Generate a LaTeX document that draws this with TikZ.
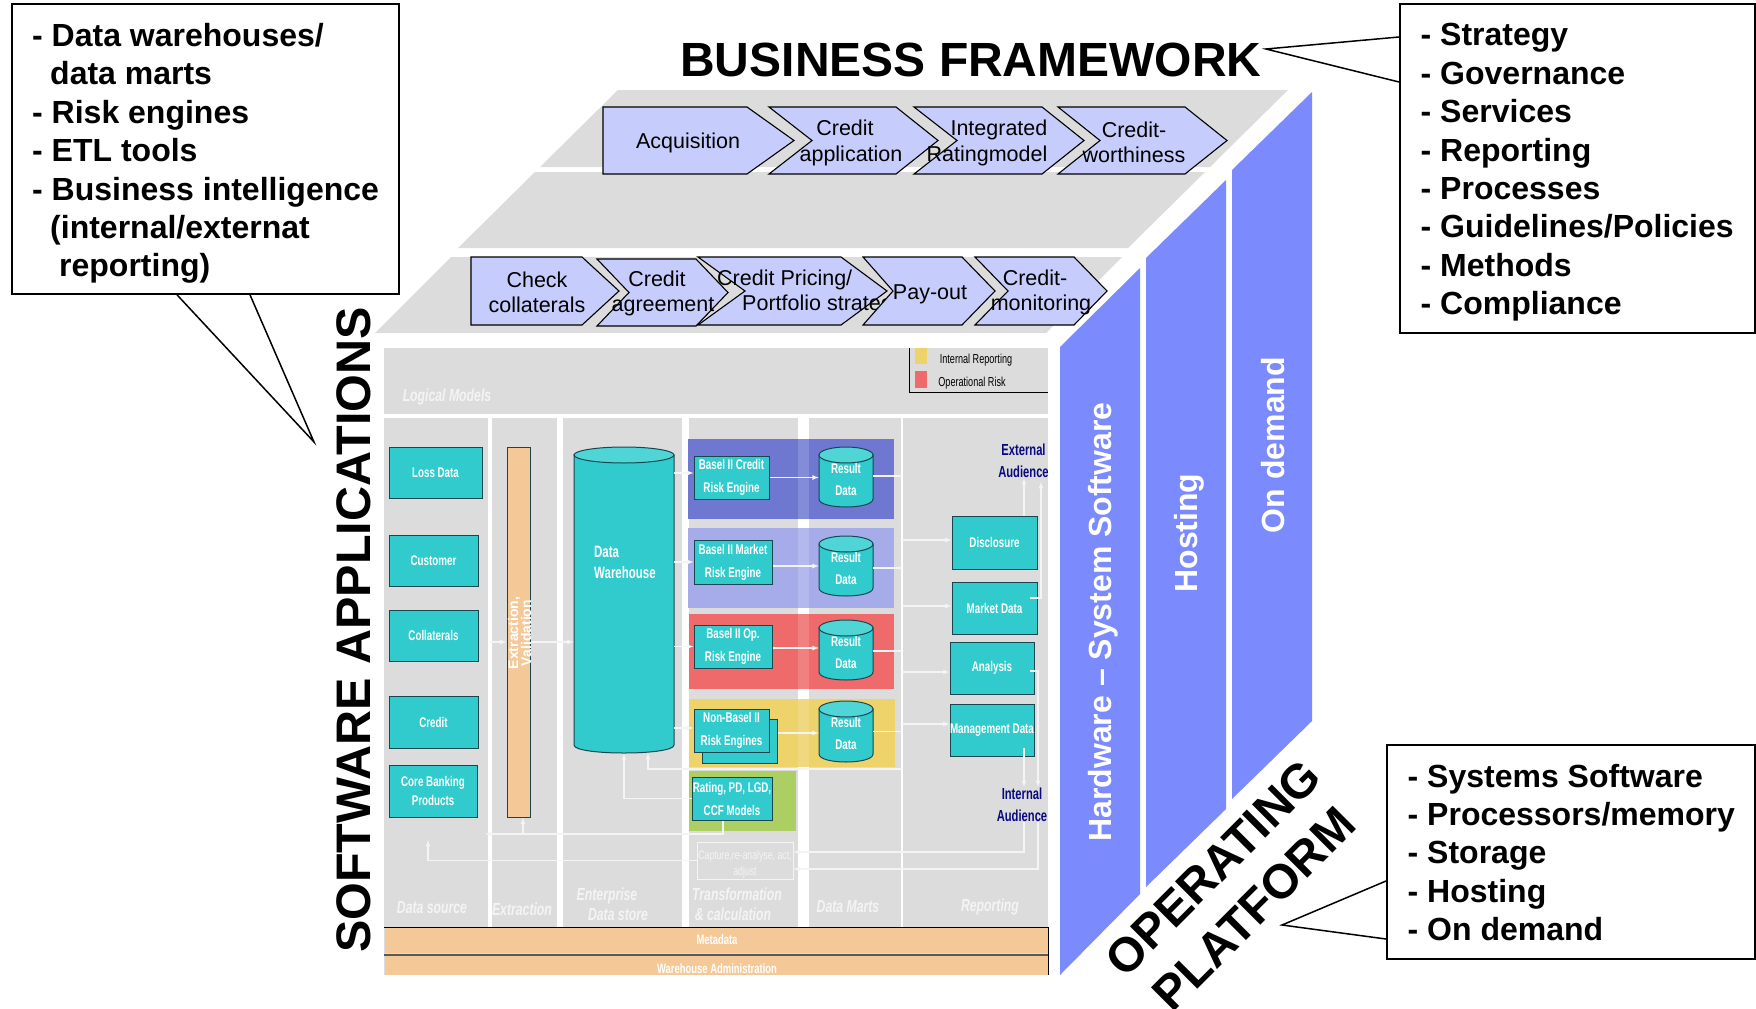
\documentclass[tikz,border=0pt]{standalone}
\usepackage{fontspec}
\setmainfont{Liberation Sans}
\newfontfamily\narrowfont[FakeStretch=0.7]{Liberation Sans}

\definecolor{plategray}{HTML}{DCDCDC}
\definecolor{panelblue}{HTML}{7B8AFC}
\definecolor{chevblue}{HTML}{C6CCFC}
\definecolor{tealbox}{HTML}{31CBCD}
\definecolor{tealtop}{HTML}{4FD5D5}
\definecolor{tealline}{HTML}{17464F}
\definecolor{peach}{HTML}{F5C997}
\definecolor{bandblue}{HTML}{6E78D0}
\definecolor{bandlav}{HTML}{A6ACEA}
\definecolor{bandred}{HTML}{EF6A6A}
\definecolor{bandyellow}{HTML}{EED26A}
\definecolor{bandgreen}{HTML}{ABCF62}
\definecolor{audnavy}{HTML}{0A0A80}
\definecolor{ghost}{HTML}{F4F4F4}

\tikzset{
  >=latex,
  chevron/.style={fill=chevblue,draw=black,line width=1.1pt,line join=miter},
  chevtext/.style={font=\fontsize{21.5}{25.2}\selectfont,align=center,inner sep=0pt},
  bigtitle/.style={font=\fontsize{48}{56}\selectfont\bfseries,inner sep=0pt,align=center},
  paneltext/.style={font=\fontsize{32}{38}\selectfont\bfseries,text=white,rotate=90,inner sep=0pt},
  callbox/.style={draw=black,line width=1.8pt,fill=white,anchor=north west,inner sep=0pt},
  calltext/.style={anchor=west,align=left,inner sep=0pt,font=\fontsize{32}{38.4}\selectfont\bfseries},
  calltail/.style={draw=black,line width=1.5pt},
  tealnode/.style={fill=tealbox,draw=tealline,line width=1pt,text=white,align=center,inner sep=0pt,
    font=\fontsize{14}{23}\selectfont\narrowfont\bfseries},
  srcbox/.style 2 args={tealnode,minimum width=#1pt,minimum height=#2pt},
  drumbody/.style={fill=tealbox,draw=tealline,line width=1pt},
  drumtop/.style={fill=tealtop,draw=tealline,line width=1pt},
  drumtext/.style={text=white,align=center,inner sep=0pt,font=\fontsize{14}{22}\selectfont\narrowfont\bfseries},
  layertext/.style={font=\fontsize{17.5}{21}\selectfont\narrowfont\bfseries\itshape,text=ghost,inner sep=0pt,align=center},
  bartext/.style={font=\fontsize{13.5}{16}\selectfont\narrowfont\bfseries,text=white,inner sep=0pt},
  audtext/.style={font=\fontsize{16}{22}\selectfont\narrowfont\bfseries,text=audnavy,align=center,inner sep=0pt},
  legendtext/.style={font=\fontsize{13}{16}\selectfont\narrowfont,inner sep=0pt},
  flow/.style={->,draw=ghost,line width=1.2pt},
  flowline/.style={draw=ghost,line width=1.2pt}
}

% name, centre x, x radius, top y, foot y, text
\newcommand{\drum}[6]{%
  \draw[drumbody] (#2-#3,#4) -- (#2-#3,#5) .. controls (#2-#3,#5+10.67) and (#2+#3,#5+10.67) .. (#2+#3,#5) -- (#2+#3,#4) -- cycle;
  \draw[drumtop] (#2,#4) ellipse [x radius=#3,y radius=8];
  \node[drumtext,minimum width={2*#3},minimum height={#5-#4+12}] (#1) at (#2,{(#4+#5)/2+2}) {#6};
}

\begin{document}
\begin{tikzpicture}[x=1pt,y=-1pt]
  \useasboundingbox (0,0) rectangle (1756,1009);

  % top plates
  \fill[plategray] (618,90) -- (1288,90) -- (1210,167) -- (540,167) -- cycle;
  \fill[plategray] (535,172) -- (1205,172) -- (1128,248) -- (458,248) -- cycle;
  \fill[plategray] (451,257) -- (1122,257) -- (1046,333) -- (375,333) -- cycle;

  % side panels
  \fill[panelblue] (1232,170) -- (1312,92) -- (1312,721) -- (1232,799) -- cycle;
  \fill[panelblue] (1146,258) -- (1226,180) -- (1226,809) -- (1146,887) -- cycle;
  \fill[panelblue] (1060,347) -- (1140,268) -- (1140,894) -- (1060,975) -- cycle;
  \node[paneltext] (hardware) at (1103,622) {Hardware – System Software};
  \node[paneltext] (hosting) at (1189,533) {Hosting};
  \node[paneltext] (ondemand) at (1273,445) {On demand};

  % upper process row
  \draw[chevron] (603,107) -- (747,107) -- (794,140.5) -- (747,174) -- (603,174) -- cycle;
  \node[chevtext] (acquisition) at (688,143) {Acquisition};
  \draw[chevron] (769,107) -- (896,107) -- (938,140.5) -- (896,174) -- (769,174) -- (812,140.5) -- cycle;
  \node[chevtext] (application) at (851,143) {Credit\hspace*{12pt}\\application};
  \draw[chevron] (914,107) -- (1042,107) -- (1084,140.5) -- (1042,174) -- (914,174) -- (957,140.5) -- cycle;
  \node[chevtext,align=right] (rating) at (987,143) {Integrated\\Ratingmodel};
  \draw[chevron] (1058,107) -- (1185,107) -- (1227,140.5) -- (1185,174) -- (1058,174) -- (1100,140.5) -- cycle;
  \node[chevtext] (worthiness) at (1134,142) {Credit-\\worthiness};

  % lower process row
  \draw[chevron] (471,257) -- (582,257) -- (619,291) -- (582,325) -- (471,325) -- cycle;
  \node[chevtext] (collaterals) at (537,292) {Check\\collaterals};
  \draw[chevron] (597,259) -- (696,259) -- (728,292.5) -- (696,326) -- (597,326) -- (629,292.5) -- cycle;
  \node[chevtext] (agreement) at (663,293.5) {Credit\hspace*{12pt}\\agreement};
  \draw[chevron] (698,257) -- (841,257) -- (887,291) -- (841,325) -- (698,325) -- (745,291) -- cycle;
  \node[chevtext,anchor=west,align=left] (pricing) at (717,292.5) {Credit Pricing/\\\hspace*{25pt}Portfolio strategy};
  \draw[chevron] (863,257) -- (962,257) -- (995,291) -- (962,325) -- (863,325) -- (893,291) -- cycle;
  \node[chevtext] (payout) at (930,294) {Pay-out};
  \draw[chevron] (975,257) -- (1074,257) -- (1107,291) -- (1074,325) -- (975,325) -- (1008,291) -- cycle;
  \node[chevtext] (monitoring) at (1041,292.5) {\hspace*{-12pt}Credit-\\monitoring};

  % front face
  \fill[plategray] (384,348) rectangle (1048,975);
  \fill[white] (384,414) rectangle (1048,418);
  \fill[white] (488,416) rectangle (492,927);
  \fill[white] (557,416) rectangle (563,927);
  \fill[white] (682,416) rectangle (689,927);
  \fill[white] (798,416) rectangle (809,927);
  \fill[white] (901,416) rectangle (903,927);

  % legend
  \draw[black,line width=0.9pt] (909,348) -- (909,392) -- (1048,392);
  \fill[bandyellow] (915,348) rectangle (927,364);
  \fill[bandred] (915,371) rectangle (927,388);
  \node[legendtext] (internalrep) at (976,360) {Internal Reporting};
  \node[legendtext] (oprisk) at (972,383) {Operational Risk};

  % risk bands
  \fill[bandblue] (688,439) rectangle (894,519);
  \fill[bandlav] (688,528) rectangle (894,608);
  \fill[bandred] (689,614) rectangle (894,689);
  \fill[bandyellow] (689,699) rectangle (895,767);
  \fill[bandgreen] (689,771) rectangle (796,831);
  \fill[white,opacity=.15] (798,416) rectangle (809,767);

  % layer names
  \node[layertext] (logical) at (447,397) {Logical Models};
  \node[layertext] (datasource) at (432,908) {Data source};
  \node[layertext] (extraction) at (522,909) {Extraction};
  \node[layertext] (enterprise) at (607,896) {Enterprise};
  \node[layertext] (datastore) at (618,915) {Data store};
  \node[layertext] (transform) at (737,894) {Transformation};
  \node[layertext] (calc) at (733,914) {\& calculation};
  \node[layertext] (datamarts) at (848,907) {Data Marts};
  \node[layertext] (reporting) at (990,907) {Reporting};

  % metadata bars
  \fill[peach] (385,927) rectangle (1048,953);
  \fill[peach] (385,956) rectangle (1048,975);
  \draw[black,line width=0.8pt] (384,927) -- (1048,927) -- (1048,975);
  \draw[black!65,line width=2pt] (384,954.5) -- (1048,954.5);
  \node[bartext] (metadata) at (717,940) {Metadata};
  \node[bartext] (whadmin) at (717,969) {Warehouse Administration};

  % sources
  \node[srcbox={93}{51}] (loss) at (435.5,472.5) {Loss Data};
  \node[srcbox={89}{51}] (customer) at (433.5,560.5) {Customer};
  \node[srcbox={89}{51}] (collat) at (433.5,635.5) {Collaterals};
  \node[srcbox={89}{52}] (credit) at (433.5,722) {Credit};
  \node[srcbox={88}{52},font=\fontsize{14}{19}\selectfont\narrowfont\bfseries] (core) at (433,791) {Core Banking\\Products};

  % extraction bar
  \node[fill=peach,draw=tealline,line width=1pt,minimum width=23pt,minimum height=370pt,inner sep=0pt] (extbar) at (518.5,632) {};
  \node[rotate=90,text=white,align=center,inner sep=0pt,font=\fontsize{14}{13}\selectfont\bfseries] (extlabel) at (519.5,633) {Extraction,\\Validation};

  % warehouse
  \drum{wh}{624}{50}{455}{745}{}
  \node[anchor=west,text=white,align=left,inner sep=0pt,font=\fontsize{16.4}{21}\selectfont\narrowfont\bfseries] (whlabel) at (594,562) {Data\\Warehouse};

  % engines
  \node[srcbox={75}{43}] (bcredit) at (731.5,477.5) {Basel II Credit\\Risk Engine};
  \node[srcbox={78}{44}] (bmarket) at (733,562) {Basel II Market\\Risk Engine};
  \node[srcbox={78}{43}] (bop) at (733,646.5) {Basel II Op.\\Risk Engine};
  \node[srcbox={75}{44}] (nonbback) at (739.5,741) {};
  \node[srcbox={75}{43}] (nonb) at (731.5,730.5) {Non-Basel II\\Risk Engines};
  \node[srcbox={80}{43}] (ratingpd) at (732,798.5) {Rating, PD, LGD,\\CCF Models};

  % result stores
  \drum{res1}{846}{27}{455}{499}{Result\\Data}
  \drum{res2}{846}{27}{544}{588}{Result\\Data}
  \drum{res3}{846}{27}{628}{672}{Result\\Data}
  \drum{res4}{846}{27}{709}{754}{Result\\Data}

  % reports
  \node[srcbox={85}{53}] (disclosure) at (994.5,542.5) {Disclosure};
  \node[srcbox={85}{52}] (marketdata) at (994.5,608) {Market Data};
  \node[srcbox={84}{52}] (analysis) at (992,668) {Analysis};
  \node[srcbox={84}{52}] (mgmt) at (992,730) {Management Data};
  \node[audtext] (extaud) at (1023.5,461) {External\\Audience};
  \node[audtext] (intaud) at (1022,805) {Internal\\Audience};

  % capture box
  \node[draw=ghost,line width=0.8pt,minimum width=96pt,minimum height=37pt,inner sep=0pt] (capture) at (745,860.5) {};
  \node[text=ghost,align=center,inner sep=0pt,font=\fontsize{12.5}{16}\selectfont\narrowfont] (capturetext) at (745,864.5) {Capture,re-analyse, act,\\adjust};

  % helper points
  \coordinate (repline) at (902,416);
  \coordinate (extin) at (1041,482);
  \coordinate (intin) at (1038,787);
  \coordinate (mgmtout) at (1024,748);
  \coordinate (srcin) at (428,840);
  \coordinate (metaret) at (902,769);
  \coordinate (whin) at (648,753);
  \coordinate (srcbar) at (485,834);
  \coordinate (extup) at (523,834);
  \coordinate (srcbus) at (490,642);

  % warehouse to engines
  \draw[flow] ([yshift=4.5pt]bcredit.west -| wh.east) -- ([yshift=4.5pt]bcredit.west);
  \draw[flow] (bmarket.west -| wh.east) -- (bmarket.west);
  \draw[flow] (bop.west -| wh.east) -- (bop.west);
  \draw[flow] ([yshift=2.5pt]nonb.west -| wh.east) -- ([yshift=2.5pt]nonb.west);

  % engines to stores
  \draw[flow] (bcredit.east) -- (bcredit.east -| res1.west);
  \draw[flow] ([yshift=-4pt]bmarket.east) -- ([yshift=-4pt]bmarket.east -| res2.west);
  \draw[flow] ([yshift=-1.5pt]bop.east) -- ([yshift=-1.5pt]bop.east -| res3.west);
  \draw[flow] ([yshift=8pt]nonbback.east) -- ([yshift=8pt]nonbback.east -| res4.west);

  % stores to reports
  \draw[flowline] ([yshift=3pt]res1.east) -- ([yshift=3pt]res1.east -| repline);
  \draw[flowline] (res2.east) -- (res2.east -| repline);
  \draw[flowline] ([yshift=1pt]res3.east) -- ([yshift=1pt]res3.east -| repline);
  \draw[flowline] ([yshift=2pt]res4.east) -- ([yshift=2pt]res4.east -| repline);
  \draw[flow] ([yshift=2.5pt]disclosure.west -| repline) -- ([yshift=2.5pt]disclosure.west);
  \draw[flow] ([yshift=2pt]marketdata.west -| repline) -- ([yshift=2pt]marketdata.west);
  \draw[flow] ([yshift=-4pt]analysis.west -| repline) -- ([yshift=-4pt]analysis.west);
  \draw[flow] ([yshift=6pt]mgmt.west -| repline) -- ([yshift=6pt]mgmt.west);

  % reports to audiences
  \draw[flow] ([xshift=.5pt]extaud.south |- disclosure.north) -- ([xshift=.5pt]extaud.south);
  \draw[flow] ([shift={(-8pt,10pt)}]marketdata.east) -| (extin);
  \draw[flow] ([shift={(-5pt,-3pt)}]analysis.east) -| (intin);
  \draw[flow] (mgmtout) -- (mgmtout |- intin);

  % feedback
  \draw[flow] (mgmtout |- intaud.south) |- ([yshift=8.5pt]capture.east);
  \draw[flow] (intin |- intaud.south) |- ([yshift=-8.5pt]capture.east);
  \draw[flow] (capture.west) -| (srcin);
  \draw[flow] (ratingpd.west) -| (wh.south);
  \draw[flow] (metaret) -| (whin);
  \draw[flow] ([xshift=-9pt]ratingpd.south) |- (srcbar);
  \draw[flow] (extup) -- (extup |- extbar.south);
  \draw[flow] (srcbus) -- (srcbus -| extbar.west);
  \draw[flow] (srcbus -| extbar.east) -- (srcbus -| wh.west);

  % titles
  \node[bigtitle] (business) at (971,60) {BUSINESS FRAMEWORK};
  \node[bigtitle,rotate=90,font=\fontsize{48.5}{56}\selectfont\bfseries] (software) at (354,630) {SOFTWARE APPLICATIONS};
  \node[bigtitle,rotate=45] (operating) at (1213,868) {OPERATING};
  \node[bigtitle,rotate=45] (platform) at (1254,909) {PLATFORM};

  % callouts
  \node[callbox,minimum width=387pt,minimum height=290pt] (toolbox) at (11,3) {};
  \node[calltext] (toollist) at (32,153.5)
    {- Data warehouses/\\\hspace*{18pt}data marts\\- Risk engines\\- ETL tools\\- Business intelligence\\\hspace*{18pt}(internal/externat\\\hspace*{27pt}reporting)};
  \node[callbox,minimum width=355pt,minimum height=329pt] (frameworkbox) at (1399,3) {};
  \node[calltext] (frameworklist) at (1420.5,172.5)
    {- Strategy\\- Governance\\- Services\\- Reporting\\- Processes\\- Guidelines/Policies\\- Methods\\- Compliance};
  \node[callbox,minimum width=368pt,minimum height=214pt] (platformbox) at (1386,744) {};
  \node[calltext] (platformlist) at (1407.5,852.5)
    {- Systems Software\\- Processors/memory\\- Storage\\- Hosting\\- On demand};

  \coordinate (tooltip) at (314,442);
  \coordinate (frametip) at (1266,49);
  \coordinate (platip) at (1282,925);
  \draw[calltail] ([xshift=166pt]toolbox.south west) -- (tooltip) -- ([xshift=239pt]toolbox.south west);
  \draw[calltail] ([yshift=-34pt]frameworkbox.north west) -- (frametip) -- ([yshift=-79pt]frameworkbox.north west);
  \draw[calltail] ([yshift=-137pt]platformbox.north west) -- (platip) -- ([yshift=-195pt]platformbox.north west);
\end{tikzpicture}
\end{document}
